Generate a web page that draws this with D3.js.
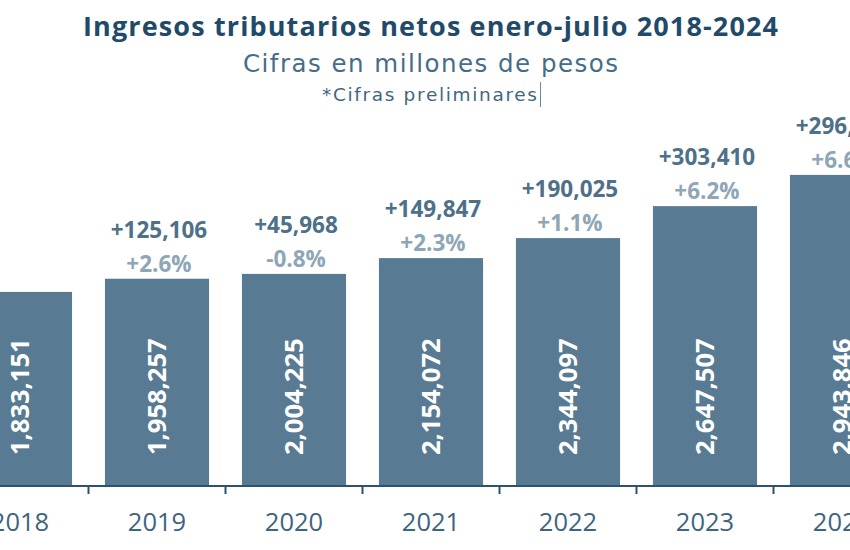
<!DOCTYPE html>
<html>
<head>
<meta charset="utf-8">
<script src="https://cdn.jsdelivr.net/npm/d3@7"></script>
<style>
  html, body { margin: 0; padding: 0; background: #ffffff; }
  svg { display: block; }
  text { font-family: "Open Sans", sans-serif; }
</style>
</head>
<body>
<svg id="chart" width="850" height="550"></svg>
<script>
const years = ["2018", "2019", "2020", "2021", "2022", "2023", "2024"];
const values = [1833151, 1958257, 2004225, 2154072, 2344097, 2647507, 2943846];
const diffLabels = ["", "+125,106", "+45,968", "+149,847", "+190,025", "+303,410", "+296,339"];
const pctLabels = ["", "+2.6%", "-0.8%", "+2.3%", "+1.1%", "+6.2%", "+6.6%"];

const title = "Ingresos tributarios netos enero-julio 2018-2024";
const subtitle = "Cifras en millones de pesos";
const note = "*Cifras preliminares";

const W = 850, H = 550;
const baseY = 485;
const svg = d3.select("#chart");

const x = d3.scaleBand()
  .domain(years)
  .range([-48.5, 910.5])
  .paddingInner(0.24)
  .paddingOuter(0.12);

const y = d3.scaleLinear()
  .domain([0, 3000000])
  .range([baseY, 169]);

const barColor = "#587b93";
const data = years.map((yr, i) => ({ yr, v: values[i], d: diffLabels[i], p: pctLabels[i] }));

// Titles
svg.append("text")
  .attr("x", 430.5).attr("y", 36)
  .attr("text-anchor", "middle")
  .attr("font-size", 27).attr("font-weight", 700)
  .attr("fill", "#1f4a69")
  .attr("textLength", 695).attr("lengthAdjust", "spacing")
  .text(title);

svg.append("text")
  .attr("x", 430.5).attr("y", 72)
  .attr("text-anchor", "middle")
  .style("font-family", "'DejaVu Sans', sans-serif")
  .attr("font-size", 24.5).attr("font-weight", 400)
  .attr("fill", "#466d88")
  .attr("textLength", 375).attr("lengthAdjust", "spacing")
  .text(subtitle);

svg.append("text")
  .attr("x", 429.5).attr("y", 101)
  .attr("text-anchor", "middle")
  .style("font-family", "'DejaVu Sans', sans-serif")
  .attr("font-size", 18.5).attr("font-weight", 400)
  .attr("fill", "#3f6781")
  .attr("textLength", 215).attr("lengthAdjust", "spacing")
  .text(note);

// cursor-like mark after note
svg.append("line")
  .attr("x1", 540.5).attr("x2", 540.5)
  .attr("y1", 82).attr("y2", 107)
  .attr("stroke", "#6f8797").attr("stroke-width", 1);

// Bars
svg.append("g").selectAll("rect")
  .data(data).join("rect")
  .attr("x", d => x(d.yr))
  .attr("y", d => y(d.v))
  .attr("width", x.bandwidth())
  .attr("height", d => y(0) - y(d.v))
  .attr("fill", barColor);

// Inner rotated labels
svg.append("g").selectAll("text")
  .data(data).join("text")
  .attr("transform", d => `translate(${x(d.yr) + x.bandwidth() / 2 + 9},455) rotate(-90)`)
  .attr("text-anchor", "start")
  .attr("font-size", 25.5).attr("font-weight", 700)
  .attr("fill", "#ffffff")
  .text(d => d3.format(",")(d.v));

// Diff labels
svg.append("g").selectAll("text")
  .data(data.filter(d => d.d)).join("text")
  .attr("x", d => x(d.yr) + x.bandwidth() / 2 + 2)
  .attr("y", d => y(d.v) - 41)
  .attr("text-anchor", "middle")
  .attr("font-size", 22.5).attr("font-weight", 700)
  .attr("fill", "#4e7088")
  .text(d => d.d);

// Pct labels
svg.append("g").selectAll("text")
  .data(data.filter(d => d.p)).join("text")
  .attr("x", d => x(d.yr) + x.bandwidth() / 2 + 2)
  .attr("y", d => y(d.v) - 7)
  .attr("text-anchor", "middle")
  .attr("font-size", 22.5).attr("font-weight", 700)
  .attr("fill", "#8ea6b6")
  .text(d => d.p);

// Axis
const axisG = svg.append("g").attr("transform", `translate(0,${baseY})`);
axisG.call(d3.axisBottom(x).tickSize(0).tickPadding(28))
  .call(g => g.select(".domain").remove())
  .call(g => g.selectAll("text")
    .attr("font-size", 25.5)
    .attr("fill", "#3d6480"));

axisG.append("line")
  .attr("x1", 0).attr("x2", W)
  .attr("y1", 1).attr("y2", 1)
  .attr("stroke", "#2c5270").attr("stroke-width", 2);

const step = x.step();
const halfGap = step * x.paddingInner() / 2;
axisG.selectAll(".btick")
  .data(years.slice(1)).join("line")
  .attr("class", "btick")
  .attr("x1", d => x(d) - halfGap).attr("x2", d => x(d) - halfGap)
  .attr("y1", 1).attr("y2", 9)
  .attr("stroke", "#2c5270").attr("stroke-width", 2);
</script>
</body>
</html>
